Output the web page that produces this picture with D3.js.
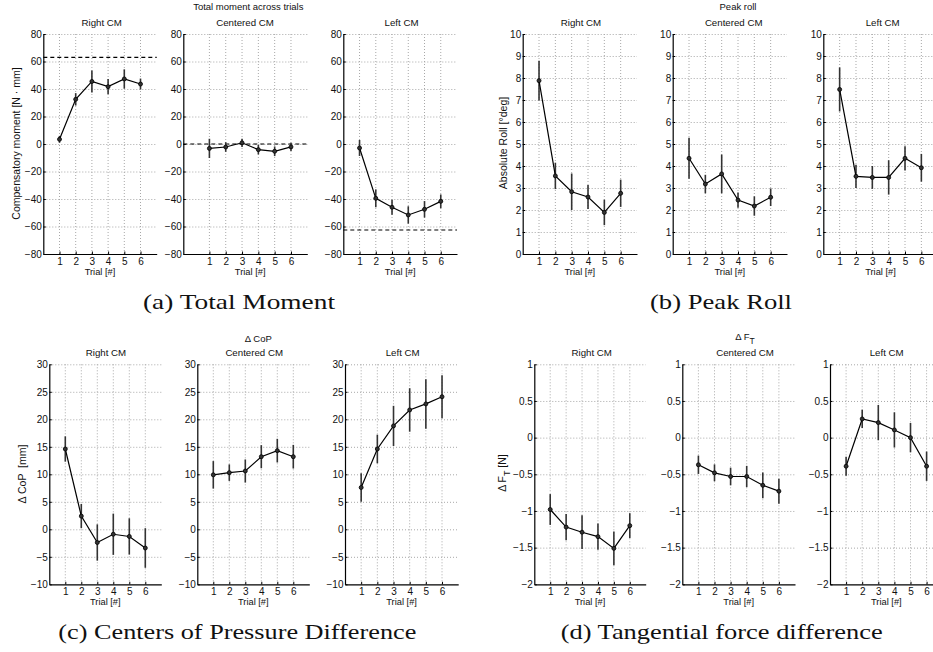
<!DOCTYPE html>
<html>
<head>
<meta charset="utf-8">
<script src="https://cdn.jsdelivr.net/npm/d3@7"></script>
<style>
  body { margin: 0; background: #fff; }
  svg { display: block; }
  text { font-family: "Liberation Sans", Arial, sans-serif; fill: #111; }
</style>
</head>
<body>
<svg id="chart" width="933" height="652"></svg>
<script>
// ---------------- data ----------------
const trials = [1, 2, 3, 4, 5, 6];

// (a) Total moment [N·mm]
const momentRight = [3.4, 32.5, 45.5, 41.7, 47.3, 43.6];
const momentRightErr = [2.5, 4.5, 8, 5.5, 7, 4];
const momentCentered = [-3.2, -2.2, 0.9, -4.1, -5.3, -2.1];
const momentCenteredErr = [7, 3.5, 3, 3.5, 3.5, 3];
const momentLeft = [-2.9, -39.5, -46, -51.6, -47.5, -41.7];
const momentLeftErr = [5.8, 6.5, 5.5, 6.3, 6, 5];
const momentRefs = [63, 0, -62.5];
const momentTicks = [-80, -60, -40, -20, 0, 20, 40, 60, 80];

// (b) Peak roll [deg]
const rollRight = [7.88, 3.55, 2.83, 2.59, 1.89, 2.76];
const rollRightErr = [0.9, 0.6, 0.83, 0.55, 0.58, 0.62];
const rollCentered = [4.35, 3.18, 3.64, 2.45, 2.18, 2.58];
const rollCenteredErr = [0.93, 0.42, 0.88, 0.35, 0.44, 0.4];
const rollLeft = [7.48, 3.53, 3.48, 3.48, 4.35, 3.92];
const rollLeftErr = [1.0, 0.53, 0.52, 0.78, 0.55, 0.63];
const rollTicks = [0, 1, 2, 3, 4, 5, 6, 7, 8, 9, 10];

// (c) Delta CoP [mm]
const copRight = [14.6, 2.4, -2.4, -0.9, -1.3, -3.4];
const copRightErr = [2.3, 2.2, 3.3, 3.75, 3.3, 3.6];
const copCentered = [9.9, 10.3, 10.6, 13.2, 14.3, 13.2];
const copCenteredErr = [2.5, 1.5, 2.1, 2.1, 2.15, 2.15];
const copLeft = [7.6, 14.6, 18.8, 21.7, 22.8, 24.1];
const copLeftErr = [2.6, 2.6, 3.65, 3.95, 4.5, 3.9];
const copTicks = [-10, -5, 0, 5, 10, 15, 20, 25, 30];

// (d) Delta F_T [N]
const ftRight = [-0.98, -1.22, -1.29, -1.35, -1.51, -1.2];
const ftRightErr = [0.21, 0.18, 0.23, 0.18, 0.23, 0.17];
const ftCentered = [-0.37, -0.48, -0.53, -0.53, -0.65, -0.73];
const ftCenteredErr = [0.125, 0.115, 0.12, 0.145, 0.175, 0.17];
const ftLeft = [-0.39, 0.255, 0.205, 0.105, 0.0, -0.39];
const ftLeftErr = [0.13, 0.125, 0.24, 0.24, 0.2, 0.2];
const ftTicks = [-2, -1.5, -1, -0.5, 0, 0.5, 1];

const panelTitles = ["Right CM", "Centered CM", "Left CM"];
const xLabel = "Trial [#]";

// ---------------- layout ----------------
const svg = d3.select("#chart");
const fmt = v => String(v).replace("-", "\u2212");

const panels = [
  // (a)
  {v: momentRight, e: momentRightErr, ref: momentRefs[0], yt: momentTicks, left: 43.3, right: 156.7, top: 34, bottom: 254, xd: [0, 7], tx: 101.7, title: panelTitles[0]},
  {v: momentCentered, e: momentCenteredErr, ref: momentRefs[1], yt: momentTicks, left: 183.3, right: 307.3, top: 34, bottom: 254, xd: [-0.6, 7], tx: 245, title: panelTitles[1]},
  {v: momentLeft, e: momentLeftErr, ref: momentRefs[2], yt: momentTicks, left: 343.3, right: 457, top: 34, bottom: 254, xd: [0, 7], tx: 401.5, title: panelTitles[2]},
  // (b)
  {v: rollRight, e: rollRightErr, yt: rollTicks, left: 522.7, right: 637, top: 34, bottom: 254, xd: [0, 7], tx: 581, title: panelTitles[0]},
  {v: rollCentered, e: rollCenteredErr, yt: rollTicks, left: 672.7, right: 787, top: 34, bottom: 254, xd: [0, 7], tx: 733.7, title: panelTitles[1]},
  {v: rollLeft, e: rollLeftErr, yt: rollTicks, left: 823.3, right: 937.7, top: 34, bottom: 254, xd: [0, 7], tx: 882.7, title: panelTitles[2]},
  // (c)
  {v: copRight, e: copRightErr, yt: copTicks, left: 49.3, right: 161.3, top: 364.3, bottom: 584.3, xd: [0, 7], tx: 106, title: panelTitles[0]},
  {v: copCentered, e: copCenteredErr, yt: copTicks, left: 197.3, right: 309.3, top: 364.3, bottom: 584.3, xd: [0, 7], tx: 254.2, title: panelTitles[1]},
  {v: copLeft, e: copLeftErr, yt: copTicks, left: 345, right: 458.2, top: 364.3, bottom: 584.3, xd: [0, 7], tx: 402.7, title: panelTitles[2]},
  // (d)
  {v: ftRight, e: ftRightErr, yt: ftTicks, left: 534.3, right: 645.7, top: 364.3, bottom: 584.3, xd: [0, 7], tx: 591.7, title: panelTitles[0]},
  {v: ftCentered, e: ftCenteredErr, yt: ftTicks, left: 682.3, right: 795, top: 364.3, bottom: 584.3, xd: [0, 7], tx: 745, title: panelTitles[1]},
  {v: ftLeft, e: ftLeftErr, yt: ftTicks, left: 830, right: 942.7, top: 364.3, bottom: 584.3, xd: [0, 7], tx: 886.7, title: panelTitles[2]},
];

function drawPanel(p) {
  const ext = d3.extent(p.yt);
  const x = d3.scaleLinear().domain(p.xd).range([p.left, p.right]);
  const y = d3.scaleLinear().domain(ext).range([p.bottom, p.top]);
  const g = svg.append("g");

  // grid
  g.append("g").selectAll("line").data(p.yt.filter(t => t !== ext[0])).join("line")
    .attr("x1", p.left).attr("x2", p.right)
    .attr("y1", d => y(d) + 0.5).attr("y2", d => y(d) + 0.5)
    .attr("stroke", "#a8a8a8").attr("stroke-width", 1).attr("stroke-dasharray", "1,2");
  g.append("g").selectAll("line").data(trials).join("line")
    .attr("x1", d => x(d)).attr("x2", d => x(d))
    .attr("y1", p.top).attr("y2", p.bottom)
    .attr("stroke", "#a8a8a8").attr("stroke-width", 1).attr("stroke-dasharray", "1,2");

  // reference dashed line
  if (p.ref !== undefined) {
    g.append("line")
      .attr("x1", p.left).attr("x2", p.right)
      .attr("y1", y(p.ref)).attr("y2", y(p.ref))
      .attr("stroke", "#000").attr("stroke-width", 1.1).attr("stroke-dasharray", "4,3");
  }

  // axes
  const ay = g.append("g").attr("transform", `translate(${p.left},0)`)
    .call(d3.axisLeft(y).tickValues(p.yt).tickFormat(fmt).tickSize(-2.5).tickSizeOuter(0).tickPadding(1.5));
  const ax = g.append("g").attr("transform", `translate(0,${p.bottom})`)
    .call(d3.axisBottom(x).tickValues(trials).tickFormat(d => d).tickSize(-2.5).tickSizeOuter(0).tickPadding(3.5));
  [ay, ax].forEach(a => {
    a.selectAll("text").style("font-family", '"Liberation Sans", Arial, sans-serif').style("font-size", "10px").attr("fill", "#111");
    a.select(".domain").attr("stroke", "#000").attr("stroke-width", 1.2);
    a.selectAll(".tick line").attr("stroke", "#000");
  });

  // error bars
  g.append("g").selectAll("line").data(trials).join("line")
    .attr("x1", d => x(d)).attr("x2", d => x(d))
    .attr("y1", (d, i) => y(p.v[i] - p.e[i])).attr("y2", (d, i) => y(p.v[i] + p.e[i]))
    .attr("stroke", "#333").attr("stroke-width", 1.6);

  // line
  g.append("path").datum(trials)
    .attr("d", d3.line().x(d => x(d)).y((d, i) => y(p.v[i])))
    .attr("fill", "none").attr("stroke", "#000").attr("stroke-width", 1.2);

  // markers
  g.append("g").selectAll("circle").data(trials).join("circle")
    .attr("cx", d => x(d)).attr("cy", (d, i) => y(p.v[i])).attr("r", 2)
    .attr("fill", "#333").attr("stroke", "#000").attr("stroke-width", 0.8);

  // title & x label
  g.append("text").attr("x", p.tx).attr("y", p.top - 8).attr("text-anchor", "middle")
    .style("font-size", "9.7px").text(p.title);
  g.append("text").attr("x", (x(1) + x(6)) / 2).attr("y", p.bottom + 21).attr("text-anchor", "middle")
    .style("font-size", "9.3px").text(xLabel);
}

panels.forEach(drawPanel);

// super titles
svg.append("text").attr("x", 248.3).attr("y", 10).attr("text-anchor", "middle").style("font-size", "9.5px").text("Total moment across trials");
svg.append("text").attr("x", 738).attr("y", 10).attr("text-anchor", "middle").style("font-size", "9.5px").text("Peak roll");
svg.append("text").attr("x", 258.3).attr("y", 341.8).attr("text-anchor", "middle").style("font-size", "9.5px").text("\u0394 CoP");
const ftTitle = svg.append("text").attr("x", 745).attr("y", 339.5).attr("text-anchor", "middle").style("font-size", "9.5px");
ftTitle.append("tspan").text("\u0394 F");
ftTitle.append("tspan").attr("dy", 4.5).style("font-size", "8.5px").text("T");

// y labels
function yLabel(xc, yc, build) {
  const t = svg.append("text").attr("transform", `translate(${xc},${yc}) rotate(-90)`)
    .attr("text-anchor", "middle").attr("dy", "0.35em").style("font-size", "10.5px");
  build(t);
}
yLabel(16.7, 143.5, t => t.text("Compensatory moment [N \u00b7 mm]"));
yLabel(503.3, 143, t => t.text("Absolute Roll [\u00b0deg]"));
yLabel(22.7, 474, t => t.text("\u0394 CoP  [mm]").attr("xml:space", "preserve").style("white-space", "pre"));
yLabel(502.3, 473, t => {
  t.append("tspan").text("\u0394 F");
  t.append("tspan").attr("dy", 4).style("font-size", "9px").text("T");
  t.append("tspan").attr("dy", -4).text(" [N]");
});

// captions
const captions = [
  {t: "(a)  Total Moment", x: 143, y: 309.3, w: 192},
  {t: "(b)  Peak Roll", x: 650, y: 309.3, w: 142},
  {t: "(c)  Centers of Pressure Difference", x: 58.3, y: 638.5, w: 358},
  {t: "(d)  Tangential force difference", x: 560.7, y: 638.5, w: 322},
];
svg.selectAll("text.cap").data(captions).join("text").attr("class", "cap")
  .attr("x", d => d.x).attr("y", d => d.y)
  .attr("textLength", d => d.w).attr("lengthAdjust", "spacingAndGlyphs")
  .style("font-family", '"Liberation Serif", "Times New Roman", serif')
  .style("font-size", "21px").attr("fill", "#111")
  .text(d => d.t);
</script>
</body>
</html>
